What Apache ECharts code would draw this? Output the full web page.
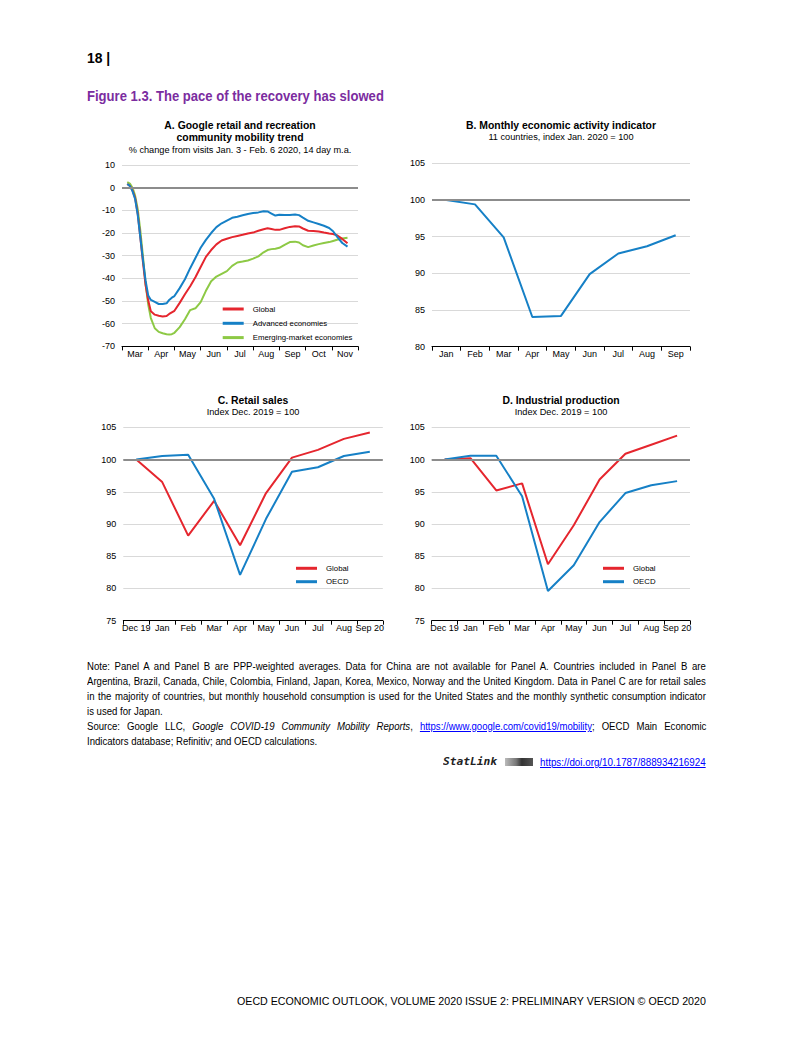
<!DOCTYPE html>
<html><head><meta charset="utf-8">
<script src="https://cdn.jsdelivr.net/npm/echarts@6/dist/echarts.min.js"></script>
<style>
html,body{margin:0;padding:0;background:#fff;}
#page{position:relative;width:793px;height:1058px;overflow:hidden;font-family:'Liberation Sans',Arial,sans-serif;color:#000;}
#chart{position:absolute;left:0;top:0;width:793px;height:1058px;}
.t{position:absolute;white-space:nowrap;transform-origin:0 50%;line-height:1;}
.n{font-size:11.7px;}
a{color:#0000ff;text-decoration:underline;}
</style></head><body>
<div id="page">
<div id="chart"></div>
<div class="t fit" data-w="23" style="left:87px;top:51px;font-size:14.5px;font-weight:bold;">18 |</div>
<div class="t fit" data-w="297" style="left:87px;top:89px;font-size:14.7px;font-weight:bold;color:#7b2c9f;">Figure 1.3. The pace of the recovery has slowed</div>

<div class="t n just" style="left:87px;top:660px;">Note: Panel A and Panel B are PPP-weighted averages. Data for China are not available for Panel A. Countries included in Panel B are</div>
<div class="t n just" style="left:87px;top:675px;">Argentina, Brazil, Canada, Chile, Colombia, Finland, Japan, Korea, Mexico, Norway and the United Kingdom. Data in Panel C are for retail sales</div>
<div class="t n just" style="left:87px;top:690px;">in the majority of countries, but monthly household consumption is used for the United States and the monthly synthetic consumption indicator</div>
<div class="t n narrow" style="left:87px;top:705px;">is used for Japan.</div>
<div class="t n just" style="left:87px;top:720px;">Source: Google LLC, <i>Google COVID-19 Community Mobility Reports</i>, <a>https://www.google.com/covid19/mobility</a>; OECD Main Economic</div>
<div class="t n narrow" style="left:87px;top:735px;">Indicators database; Refinitiv; and OECD calculations.</div>

<div class="t fit" data-w="54" style="left:443px;top:756px;font-family:'DejaVu Sans Mono',monospace;font-weight:bold;font-style:italic;font-size:11px;color:#222;">StatLink</div>
<div style="position:absolute;left:505px;top:758px;width:28px;height:8px;background:linear-gradient(90deg,#bbb 0%,#777 40%,#333 60%,#555 100%);"></div>
<div class="t fit" data-w="166" style="left:540px;top:756px;font-size:11.7px;"><a>https://doi.org/10.1787/888934216924</a></div>

<div class="t fit" data-w="469" style="left:237px;top:995.5px;font-size:11px;">OECD ECONOMIC OUTLOOK, VOLUME 2020 ISSUE 2: PRELIMINARY VERSION © OECD 2020</div>
</div>
<script>
// ---------- Data ----------
const monthsA = ['Mar','Apr','May','Jun','Jul','Aug','Sep','Oct','Nov'];
// position in months since 1 March 2020
const mobilityX = [0.2,0.3,0.4,0.5,0.6,0.7,0.8,0.9,1.0,1.1,1.25,1.4,1.55,1.7,1.8,1.9,2.0,2.2,2.4,2.6,2.8,3.0,3.2,3.4,3.6,3.8,4.0,4.2,4.4,4.6,4.8,5.0,5.2,5.4,5.55,5.7,5.85,6.0,6.2,6.4,6.6,6.75,6.9,7.1,7.3,7.5,7.7,7.9,8.05,8.2,8.4,8.6];
const mobGlobal = [1.6,0.8,-1.2,-4.5,-11.5,-22,-33,-43,-49.8,-54.5,-56,-56.5,-56.8,-56.6,-55.7,-55,-54.3,-50.8,-47,-43.5,-39.5,-35,-30.5,-27.5,-25,-23.3,-22.5,-21.8,-21.3,-20.8,-20.2,-19.8,-19.0,-18.3,-17.9,-18.2,-18.6,-18.6,-17.9,-17.3,-17.0,-17.1,-18.0,-19.0,-19.1,-19.3,-19.8,-20.2,-20.4,-21.0,-22.6,-24.5];
const mobAdvanced = [1.6,0.8,-1.5,-5,-12,-22,-32,-41,-47.5,-49.5,-50.4,-51.3,-51.3,-51,-49.5,-48.5,-47.8,-44.3,-40.4,-35.5,-31,-26.5,-23,-20,-17.4,-15.7,-14.5,-13.3,-12.8,-12.2,-11.6,-11.2,-10.9,-10.4,-10.5,-11.4,-12.3,-11.9,-12.0,-12.0,-11.8,-12.1,-13.2,-14.6,-15.3,-16.0,-16.8,-17.8,-19.2,-21.6,-24.4,-26.0];
const mobEmerging = [2.4,1.8,0,-3.5,-9.5,-19,-30.4,-42.5,-51.5,-57.5,-62,-63.6,-64.2,-64.6,-64.7,-64.6,-64,-61.5,-58,-54,-53.2,-50.5,-45.5,-41.3,-39.2,-38,-36.8,-34.5,-33,-32.6,-32.1,-31.3,-30.3,-28.5,-27.5,-27.1,-26.9,-26.5,-25.2,-24,-23.8,-24.2,-25.4,-26.2,-25.5,-24.9,-24.4,-24.0,-23.5,-23.0,-22.4,-22.1];

const monthsB = ['Jan','Feb','Mar','Apr','May','Jun','Jul','Aug','Sep'];
const activityB = [100,99.4,94.9,84.05,84.2,89.9,92.7,93.7,95.2];

const monthsCD = ['Dec 19','Jan','Feb','Mar','Apr','May','Jun','Jul','Aug','Sep 20'];
const retailGlobal = [100,96.5,88.2,93.6,86.7,94.8,100.3,101.5,103.2,104.2];
const retailOECD = [100,100.55,100.75,93.9,82.1,90.8,98.1,98.8,100.55,101.2];
const indGlobal = [100,100.2,95.2,96.3,83.75,89.8,96.9,100.9,102.3,103.7];
const indOECD = [100,100.6,100.6,94.3,79.6,83.6,90.3,94.8,96.0,96.65];

// ---------- Styles ----------
const FONT = "'Liberation Sans', Arial, sans-serif";
const RED = '#e5262e', BLUE = '#1680c6', GREEN = '#8dc945';
const GRIDC = '#d9d9d9', REFC = '#8c8c8c';

function yAx(gi, min, max, interval){
  return {type:'value', gridIndex:gi, min, max, interval,
    axisLine:{show:false}, axisTick:{show:false},
    axisLabel:{fontSize:9, color:'#000', fontFamily:FONT, margin:7},
    splitLine:{show:true, lineStyle:{color:GRIDC, width:1}}};
}
function xCat(gi, data){
  return {type:'category', gridIndex:gi, data, boundaryGap:true, position:'bottom',
    axisLine:{show:true, onZero:false, lineStyle:{color:'#000', width:1}},
    axisTick:{show:true, length:4, lineStyle:{color:'#000', width:1}, alignWithLabel:false},
    axisLabel:{fontSize:9, color:'#000', fontFamily:FONT, margin:3, interval:0, hideOverlap:false},
    splitLine:{show:false}};
}
function refLine(v){
  return {silent:true, symbol:['none','none'], label:{show:false}, animation:false,
    lineStyle:{color:REFC, width:2, type:'solid'}, data:[{yAxis:v}]};
}
function line(name, color, xi, yi, data, extra){
  return Object.assign({name, type:'line', xAxisIndex:xi, yAxisIndex:yi, data,
    symbol:'none', showSymbol:false, smooth:false, animation:false, z:3,
    lineStyle:{color, width:2}, itemStyle:{color}, emphasis:{disabled:true}}, extra||{});
}
function legend(left, top, names, gap){
  return {left, top, orient:'vertical', padding:0, itemGap:gap, itemWidth:21, itemHeight:3,
    icon:'rect', data:names, selectedMode:false,
    textStyle:{fontSize:7.8, color:'#000', fontFamily:FONT, lineHeight:10, padding:[0,0,0,4]}};
}
function txt(x, y, text, size, bold){
  return {type:'text', x, y, silent:true,
    style:{text, font:(bold?'bold ':'')+size+'px '+FONT, fill:'#000',
      textAlign:'center', textVerticalAlign:'middle'}};
}

const pairs = arr => mobilityX.map((x,i)=>[x, arr[i]]);

const option = {
  backgroundColor:'#fff',
  animation:false,
  grid:[
    {left:122, top:165, width:236, height:181.4, outerBoundsMode:'none', containLabel:false},
    {left:432, top:163.3, width:258, height:183.4, outerBoundsMode:'none', containLabel:false},
    {left:123.3, top:427.3, width:259.5, height:193.4, outerBoundsMode:'none', containLabel:false},
    {left:431.7, top:427.3, width:258.3, height:193.4, outerBoundsMode:'none', containLabel:false}
  ],
  xAxis:[
    xCat(0, monthsA),
    {type:'value', gridIndex:0, min:0, max:9, show:false, position:'top'},
    xCat(1, monthsB),
    xCat(2, monthsCD),
    xCat(3, monthsCD)
  ],
  yAxis:[
    yAx(0,-70,10,10),
    yAx(1,80,105,5),
    yAx(2,75,105,5),
    yAx(3,75,105,5)
  ],
  legend:[
    legend(222.7, 304, ['Global','Advanced economies','Emerging-market economies'], 4.3),
    legend(296, 563.3, ['Global','OECD'], 3.4),
    legend(603, 563.3, ['Global','OECD'], 3.4)
  ],
  series:[
    line('Emerging-market economies', GREEN, 1, 0, pairs(mobEmerging), {markLine:refLine(0), z:2}),
    line('Global', RED, 1, 0, pairs(mobGlobal)),
    line('Advanced economies', BLUE, 1, 0, pairs(mobAdvanced)),

    line('Activity', BLUE, 2, 1, activityB, {markLine:refLine(100)}),

    line('Global', RED, 3, 2, retailGlobal, {markLine:refLine(100)}),
    line('OECD', BLUE, 3, 2, retailOECD),

    line('Global', RED, 4, 3, indGlobal, {markLine:refLine(100)}),
    line('OECD', BLUE, 4, 3, indOECD)
  ],
  graphic:[
    txt(240, 125.7, 'A. Google retail and recreation', 10.4, true),
    txt(240, 137.5, 'community mobility trend', 10.4, true),
    txt(240, 149.7, '% change from visits Jan. 3 - Feb. 6 2020, 14 day m.a.', 9.2, false),
    txt(561, 125.7, 'B. Monthly economic activity indicator', 10.4, true),
    txt(561, 136.9, '11 countries, index Jan. 2020 = 100', 9.2, false),
    txt(253, 400, 'C. Retail sales', 10.4, true),
    txt(253, 411.7, 'Index Dec. 2019 = 100', 9.2, false),
    txt(561, 400, 'D. Industrial production', 10.4, true),
    txt(561, 411.7, 'Index Dec. 2019 = 100', 9.2, false)
  ]
};

const chart = echarts.init(document.getElementById('chart'), null, {renderer:'svg', width:793, height:1058});
chart.setOption(option);

// ---------- text fitting ----------
document.querySelectorAll('.fit').forEach(el=>{
  const w = el.offsetWidth, target = +el.dataset.w;
  if (w>0) el.style.transform = 'scaleX(' + (target/w) + ')';
});
const NS = 0.82;
document.querySelectorAll('.narrow').forEach(el=>{ el.style.transform = 'scaleX(' + NS + ')'; });
document.querySelectorAll('.just').forEach(el=>{
  el.style.transform = 'scaleX(' + NS + ')';
  const target = 619/NS, w = el.offsetWidth;
  const n = (el.textContent.match(/ /g)||[]).length;
  if (n>0) el.style.wordSpacing = ((target - w)/n) + 'px';
});
</script>
</body></html>
